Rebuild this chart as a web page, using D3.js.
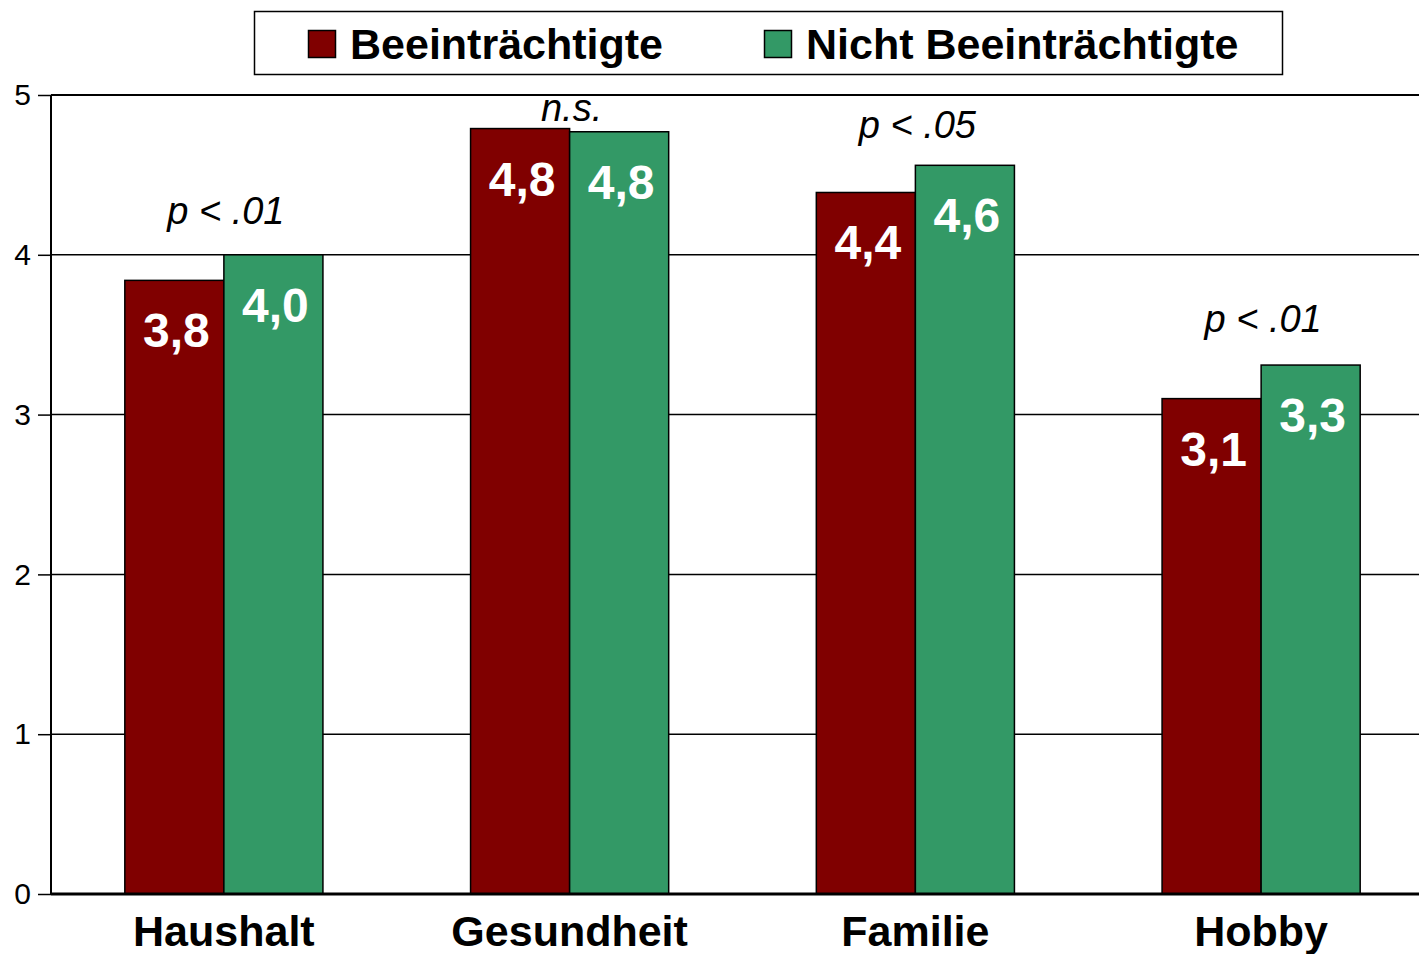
<!DOCTYPE html>
<html>
<head>
<meta charset="utf-8">
<script src="https://cdn.jsdelivr.net/npm/d3@7"></script>
<style>
  body { margin: 0; background: #fff; }
  svg { display: block; font-family: "Liberation Sans", Arial, sans-serif; }
</style>
</head>
<body>
<svg width="1419" height="954"></svg>
<script>
var categories = ["Haushalt", "Gesundheit", "Familie", "Hobby"];
var seriesNames = ["Beeinträchtigte", "Nicht Beeinträchtigte"];
var impaired = [3.84, 4.79, 4.39, 3.10];
var notImpaired = [4.00, 4.77, 4.56, 3.31];
var impairedLabels = ["3,8", "4,8", "4,4", "3,1"];
var notImpairedLabels = ["4,0", "4,8", "4,6", "3,3"];
var pLabels = ["p < .01", "n.s.", "p < .05", "p < .01"];
var pLevels = [4.19, 4.84, 4.73, 3.52];
var yTicks = [0, 1, 2, 3, 4, 5];

var colors = ["#800000", "#339966"];

var svg = d3.select("svg"),
    margin = {top: 95, right: -15, bottom: 60, left: 51},
    width = +svg.attr("width") - margin.left - margin.right,
    height = +svg.attr("height") - margin.top - margin.bottom,
    g = svg.append("g").attr("transform", "translate(" + margin.left + "," + margin.top + ")");

var data = categories.map(function(c, i) {
  return {
    category: c,
    p: pLabels[i],
    pLevel: pLevels[i],
    values: [
      {series: seriesNames[0], value: impaired[i], label: impairedLabels[i]},
      {series: seriesNames[1], value: notImpaired[i], label: notImpairedLabels[i]}
    ]
  };
});

var x0 = d3.scaleBand()
    .domain(categories)
    .range([0, width])
    .paddingInner(0.427)
    .paddingOuter(0.2135);

var x1 = d3.scaleBand()
    .domain(seriesNames)
    .range([0, x0.bandwidth()]);

var y = d3.scaleLinear()
    .domain([0, 5])
    .range([height, 0]);

var color = d3.scaleOrdinal().domain(seriesNames).range(colors);

// gridlines
g.append("g")
  .selectAll("line")
  .data(yTicks.filter(function(d) { return d > 0; }))
  .enter().append("line")
    .attr("x1", 0)
    .attr("x2", width)
    .attr("y1", function(d) { return y(d); })
    .attr("y2", function(d) { return y(d); })
    .attr("stroke", "#000")
    .attr("stroke-width", function(d) { return d === 5 ? 2 : 1.5; });

// y axis
var yAxis = g.append("g")
    .call(d3.axisLeft(y).tickValues(yTicks).tickSize(13).tickPadding(7).tickFormat(d3.format("d")));
yAxis.select(".domain").attr("stroke-width", 2).attr("d", "M0," + y(0) + "V" + y(5));
yAxis.selectAll(".tick line").attr("stroke-width", 1.5);
yAxis.selectAll(".tick text")
    .attr("font-size", 30)
    .attr("font-family", "'Liberation Sans', Arial, sans-serif")
    .attr("fill", "#000");

// bars
var groups = g.append("g")
  .selectAll("g")
  .data(data)
  .enter().append("g")
    .attr("transform", function(d) { return "translate(" + x0(d.category) + ",0)"; });

groups.selectAll("rect")
  .data(function(d) { return d.values; })
  .enter().append("rect")
    .attr("x", function(d) { return x1(d.series); })
    .attr("y", function(d) { return y(d.value); })
    .attr("width", x1.bandwidth())
    .attr("height", function(d) { return y(0) - y(d.value); })
    .attr("fill", function(d) { return color(d.series); })
    .attr("stroke", "#000")
    .attr("stroke-width", 1.5);

groups.selectAll("text.val")
  .data(function(d) { return d.values; })
  .enter().append("text")
    .attr("class", "val")
    .attr("x", function(d) { return x1(d.series) + x1.bandwidth() / 2 + 2; })
    .attr("y", function(d) { return y(d.value) + 67; })
    .attr("text-anchor", "middle")
    .attr("font-size", 48)
    .attr("font-weight", "bold")
    .attr("fill", "#fff")
    .text(function(d) { return d.label; });

groups.append("text")
    .attr("x", x0.bandwidth() / 2 + 2)
    .attr("y", function(d) { return y(d.pLevel); })
    .attr("text-anchor", "middle")
    .attr("font-size", 38)
    .attr("font-style", "italic")
    .attr("fill", "#000")
    .text(function(d) { return d.p; });

// zero line
g.append("line")
    .attr("x1", 0)
    .attr("x2", width)
    .attr("y1", y(0))
    .attr("y2", y(0))
    .attr("stroke", "#000")
    .attr("stroke-width", 3);

// x labels
g.append("g")
  .selectAll("text")
  .data(categories)
  .enter().append("text")
    .attr("x", function(d) { return x0(d) + x0.bandwidth() / 2; })
    .attr("y", height + 52)
    .attr("text-anchor", "middle")
    .attr("font-size", 43)
    .attr("font-weight", "bold")
    .attr("fill", "#000")
    .text(function(d) { return d; });

// legend
var legend = svg.append("g");
legend.append("rect")
    .attr("x", 254.5)
    .attr("y", 11.5)
    .attr("width", 1028)
    .attr("height", 63)
    .attr("fill", "#fff")
    .attr("stroke", "#000")
    .attr("stroke-width", 1.5);

var legendX = [308, 764];
var item = legend.selectAll("g.item")
  .data(seriesNames)
  .enter().append("g")
    .attr("class", "item")
    .attr("transform", function(d, i) { return "translate(" + legendX[i] + ",0)"; });

item.append("rect")
    .attr("x", 0.5)
    .attr("y", 30.5)
    .attr("width", 27)
    .attr("height", 27)
    .attr("fill", function(d) { return color(d); })
    .attr("stroke", "#000")
    .attr("stroke-width", 1.5);

item.append("text")
    .attr("x", 42)
    .attr("y", 59)
    .attr("font-size", 43)
    .attr("font-weight", "bold")
    .attr("fill", "#000")
    .text(function(d) { return d; });
</script>
</body>
</html>
